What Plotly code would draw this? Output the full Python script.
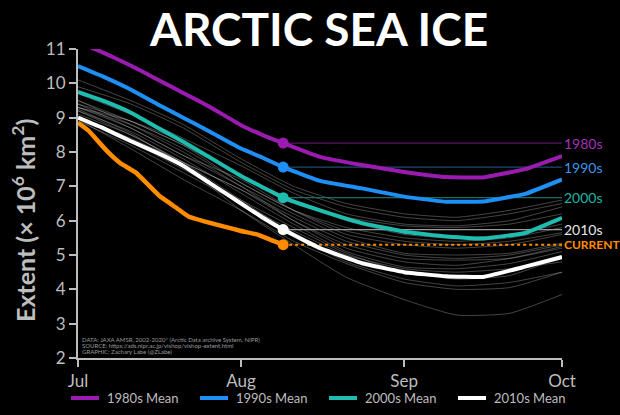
import plotly.graph_objects as go

# ---------------- data ----------------
# day index since Jul 1
gray_days = [0, 10, 20, 31, 41, 51, 62, 72, 82, 92]
gray_years = {
    "2012": [9.25, 8.55, 7.60, 6.30, 5.30, 4.35, 3.70, 3.25, 3.30, 3.85],
    "2019": [8.95, 8.10, 7.20, 6.30, 5.40, 4.75, 4.20, 4.00, 4.05, 4.50],
    "2007": [9.20, 8.50, 7.70, 6.60, 5.60, 4.80, 4.30, 4.10, 4.20, 4.50],
    "2016": [9.00, 8.30, 7.50, 6.60, 5.80, 5.05, 4.50, 4.30, 4.40, 4.95],
    "2011": [8.90, 8.20, 7.40, 6.50, 5.70, 5.00, 4.60, 4.50, 4.60, 4.80],
    "2015": [9.20, 8.60, 7.80, 6.80, 5.90, 5.10, 4.65, 4.60, 4.75, 5.10],
    "2008": [9.50, 8.80, 8.00, 7.00, 6.00, 5.20, 4.80, 4.70, 4.90, 5.25],
    "2010": [9.10, 8.50, 7.70, 6.90, 6.00, 5.30, 4.90, 4.85, 4.90, 5.20],
    "2017": [9.00, 8.40, 7.70, 6.90, 6.10, 5.40, 5.00, 4.90, 5.00, 5.30],
    "2018": [9.30, 8.70, 7.90, 7.00, 6.20, 5.50, 5.05, 5.00, 5.05, 5.35],
    "2005": [9.40, 8.70, 7.90, 7.20, 6.30, 5.60, 5.30, 5.20, 5.30, 5.60],
    "2014": [9.30, 8.80, 8.10, 7.10, 6.30, 5.70, 5.40, 5.30, 5.40, 5.65],
    "2009": [9.50, 8.90, 8.20, 7.10, 6.30, 5.80, 5.50, 5.40, 5.50, 5.80],
    "2013": [9.40, 8.90, 8.20, 7.30, 6.60, 6.00, 5.60, 5.50, 5.60, 5.90],
    "2006": [9.30, 8.90, 8.30, 7.30, 6.60, 6.10, 5.85, 5.80, 5.90, 6.20],
    "2002": [9.70, 9.10, 8.40, 7.60, 6.80, 6.20, 5.90, 5.85, 6.00, 6.40],
    "2004": [9.90, 9.40, 8.70, 7.70, 6.90, 6.40, 6.10, 6.00, 6.20, 6.50],
    "2003": [10.10, 9.50, 8.80, 7.80, 7.00, 6.50, 6.20, 6.10, 6.30, 6.60],
}

mean_days = [0, 5, 10, 15, 20, 25, 31, 35, 39, 46, 54, 62, 70, 77, 85, 92]
mean_1980s = [11.2, 10.88, 10.52, 10.12, 9.72, 9.32, 8.78, 8.50, 8.26, 7.86, 7.62, 7.42, 7.27, 7.26, 7.50, 7.88]
mean_1990s = [10.5, 10.18, 9.82, 9.40, 9.00, 8.60, 8.10, 7.84, 7.56, 7.16, 6.94, 6.70, 6.55, 6.56, 6.78, 7.20]
mean_2000s = [9.75, 9.48, 9.15, 8.72, 8.30, 7.85, 7.30, 6.98, 6.67, 6.30, 5.93, 5.68, 5.54, 5.48, 5.64, 6.08]
mean_2010s = [9.0, 8.68, 8.32, 7.98, 7.60, 7.10, 6.50, 6.10, 5.74, 5.20, 4.76, 4.50, 4.38, 4.36, 4.66, 4.94]

current_days = [0, 2, 4, 6, 8, 11, 13, 15.5, 18, 21, 24, 28, 31, 34, 36.5, 39]
current_vals = [8.85, 8.62, 8.28, 7.95, 7.68, 7.40, 7.10, 6.72, 6.45, 6.12, 5.98, 5.82, 5.70, 5.60, 5.45, 5.30]

tick_days = [0, 31, 62, 92]
tick_labels = ["Jul", "Aug", "Sep", "Oct"]
y_ticks = [2, 3, 4, 5, 6, 7, 8, 9, 10, 11]

decades = ["1980s", "1990s", "2000s", "2010s"]
decade_means = [mean_1980s, mean_1990s, mean_2000s, mean_2010s]

# ---------------- style ----------------
FONT = "Lato"
AX = "#bdbdbd"
colors = ["#9b1bb0", "#1e8ff5", "#1fbdb0", "#ffffff"]
ref_colors = ["#5b1466", "#1f4d73", "#1d6d63", "#9a9a9a"]
label_colors = ["#a532b8", "#3d96ea", "#22b3a4", "#e6e6e6"]
ORANGE = "#ff8c00"

L, R, T, B = 78, 58, 49, 57
W, H = 620, 415
PW, PH = W - L - R, H - T - B


def px(xp):
    return (xp - L) / PW


def py(yp):
    return (H - B - yp) / PH


fig = go.Figure()

for yr, vals in gray_years.items():
    fig.add_trace(go.Scatter(
        x=gray_days, y=vals, mode="lines", showlegend=False, hoverinfo="skip",
        line=dict(color="rgba(205,205,205,0.42)", width=0.8, shape="spline", smoothing=0.5)))

end_day = current_days[-1]
last_day = mean_days[-1]
idx = mean_days.index(end_day)

# reference horizontal lines
for name, vals, rc in zip(decades, decade_means, ref_colors):
    fig.add_trace(go.Scatter(
        x=[end_day, last_day], y=[vals[idx], vals[idx]], mode="lines",
        showlegend=False, hoverinfo="skip", line=dict(color=rc, width=1.2)))
fig.add_trace(go.Scatter(
    x=[end_day, last_day], y=[current_vals[-1], current_vals[-1]], mode="lines",
    showlegend=False, hoverinfo="skip", line=dict(color=ORANGE, width=2, dash="dot")))

# decade mean lines
for name, vals, c in zip(decades, decade_means, colors):
    fig.add_trace(go.Scatter(
        x=mean_days, y=vals, mode="lines", showlegend=False,
        line=dict(color=c, width=4, shape="spline", smoothing=0.3)))
    fig.add_trace(go.Scatter(
        x=[end_day], y=[vals[idx]], mode="markers", showlegend=False,
        marker=dict(color=c, size=11)))

# current year
fig.add_trace(go.Scatter(
    x=current_days, y=current_vals, mode="lines", showlegend=False,
    line=dict(color=ORANGE, width=4.5, shape="spline", smoothing=0.3)))
fig.add_trace(go.Scatter(
    x=[end_day], y=[current_vals[-1]], mode="markers", showlegend=False,
    marker=dict(color=ORANGE, size=11)))

# right side labels
for name, vals, lc in zip(decades, decade_means, label_colors):
    fig.add_annotation(x=last_day, y=vals[idx], xref="x", yref="y", text=name,
                       showarrow=False, xanchor="left", xshift=0,
                       font=dict(family=FONT, size=14, color=lc))
fig.add_annotation(x=last_day, y=current_vals[-1], xref="x", yref="y", text="<b>CURRENT</b>",
                   showarrow=False, xanchor="left", xshift=0,
                   font=dict(family=FONT, size=12, color=ORANGE))

# manual legend
leg_x = [71, 200, 329, 458]
for name, c, lx in zip(decades, colors, leg_x):
    fig.add_shape(type="line", xref="paper", yref="paper",
                  x0=px(lx), x1=px(lx + 28), y0=py(398), y1=py(398),
                  line=dict(color=c, width=4))
    fig.add_annotation(x=px(lx + 34), y=py(398), xref="paper", yref="paper",
                       text=name + " Mean", showarrow=False, xanchor="left", yanchor="middle",
                       font=dict(family=FONT, size=13, color=AX))

# title
fig.add_annotation(x=px(318), y=py(0), xref="paper", yref="paper", text="<b>ARCTIC SEA ICE</b>",
                   showarrow=False, xanchor="center", yanchor="top", borderpad=0,
                   font=dict(family=FONT, size=46, color="#ffffff"))

# y axis title
fig.add_annotation(x=px(23), y=py(221), xref="paper", yref="paper",
                   text="<b>Extent (× 10<sup>6</sup> km<sup>2</sup>)</b>", textangle=-90,
                   showarrow=False, xanchor="center", yanchor="middle",
                   font=dict(family=FONT, size=25, color=AX))

# source text
src_lines = ["DATA: JAXA AMSR, 2002-2020* (Arctic Data archive System, NIPR)",
             "SOURCE: https://ads.nipr.ac.jp/vishop/vishop-extent.html",
             "GRAPHIC: Zachary Labe (@ZLabe)"]
for i, s in enumerate(src_lines):
    fig.add_annotation(x=px(80), y=py(339 + i * 6), xref="paper", yref="paper",
                       text=s, showarrow=False, xanchor="left", yanchor="middle",
                       font=dict(family=FONT, size=6, color="#9a9a9a"))

fig.update_layout(
    width=W, height=H,
    margin=dict(l=L, r=R, t=T, b=B, autoexpand=False),
    paper_bgcolor="#000000", plot_bgcolor="#000000",
    font=dict(family=FONT, color=AX),
    showlegend=False,
    xaxis=dict(range=[0, 92], tickvals=tick_days, ticktext=tick_labels,
               showgrid=False, zeroline=False, showline=True, linecolor=AX, linewidth=2,
               ticks="outside", ticklen=7, tickwidth=2, tickcolor=AX,
               tickfont=dict(family=FONT, size=17, color=AX)),
    yaxis=dict(range=[2, 11], tickvals=y_ticks,
               showgrid=False, zeroline=False, showline=True, linecolor=AX, linewidth=2,
               ticks="outside", ticklen=7, tickwidth=2, tickcolor=AX,
               tickfont=dict(family=FONT, size=17, color=AX)),
)

fig.write_html("out.html", config={"displayModeBar": False},
               post_script="document.body.style.margin='0';document.body.style.background='#000';")
